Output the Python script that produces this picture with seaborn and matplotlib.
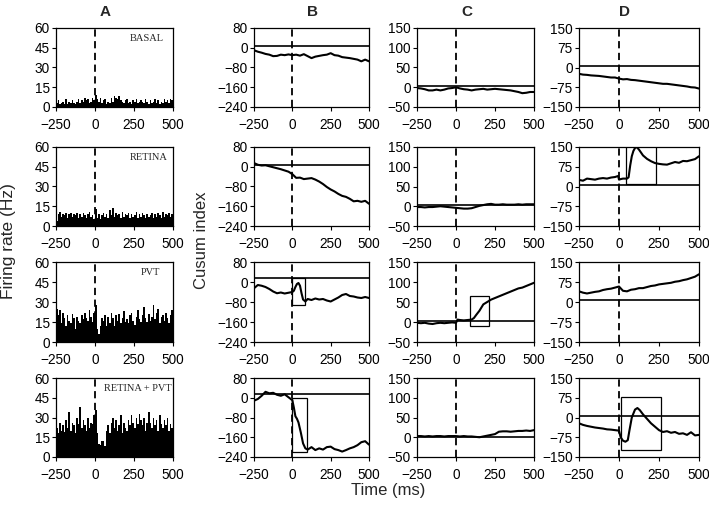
import matplotlib
matplotlib.use("Agg")
import matplotlib.pyplot as plt
import matplotlib.patches as patches
import seaborn as sns
import numpy as np
import pandas as pd

# ---- data ---------------------------------------------------------------
# firing rate histograms, 10 ms bins from -250 to 500 ms
bin_edges = list(range(-250, 501, 10))

rate_basal = [3, 5, 2, 3, 4, 2, 6, 2, 4, 3, 5, 3, 2, 4, 6,
              3, 5, 4, 7, 5, 6, 3, 4, 7, 5, 9, 6, 4, 7, 3,
              5, 6, 2, 4, 3, 7, 4, 8, 7, 6, 8, 5, 4, 3, 5,
              6, 3, 4, 2, 5, 4, 6, 3, 4, 5, 4, 3, 6, 4, 2,
              5, 3, 4, 6, 3, 5, 2, 4, 3, 6, 4, 5, 3, 6, 5]
rate_retina = [4, 9, 11, 7, 9, 8, 10, 6, 9, 10, 7, 9, 8, 10, 6,
               9, 7, 10, 8, 6, 9, 11, 7, 8, 5, 13, 6, 9, 5, 8,
               10, 7, 9, 6, 12, 8, 14, 7, 10, 8, 9, 6, 11, 7, 9,
               8, 10, 6, 9, 7, 8, 11, 6, 9, 7, 10, 8, 6, 9, 7,
               8, 10, 6, 9, 7, 10, 8, 6, 11, 7, 9, 8, 10, 7, 9]
rate_pvt = [25, 20, 24, 14, 22, 18, 12, 20, 16, 14, 21, 18, 10, 19, 16,
            14, 20, 17, 22, 18, 16, 24, 19, 15, 22, 28, 10, 6, 12, 18,
            16, 20, 12, 19, 14, 22, 18, 12, 20, 16, 21, 14, 18, 23, 15,
            17, 14, 20, 22, 16, 13, 19, 24, 17, 15, 20, 26, 18, 15, 21,
            16, 19, 28, 17, 22, 25, 14, 19, 20, 16, 22, 18, 14, 20, 24]
rate_both = [22, 18, 26, 20, 24, 19, 28, 22, 34, 20, 26, 24, 18, 30, 25,
             38, 22, 28, 24, 20, 30, 22, 26, 25, 32, 36, 18, 10, 9, 12,
             12, 8, 20, 24, 18, 26, 30, 22, 28, 20, 24, 32, 18, 26, 22,
             20, 28, 24, 32, 26, 22, 30, 25, 33, 28, 24, 30, 20, 26, 34,
             26, 22, 30, 24, 28, 20, 32, 25, 22, 28, 24, 30, 20, 25, 22]
hist_labels = ["BASAL", "RETINA", "PVT", "RETINA + PVT"]

# cusum traces
t_common = list(range(-250, 501, 25))

b1_y = [-10, -16, -20, -25, -28, -34, -33, -28, -30, -27, -30, -28, -32, -26, -34, -42,
        -36, -33, -30, -28, -22, -30, -32, -38, -40, -42, -45, -48, -55, -48, -55]
b2_y = [15, 8, 5, 6, 2, -2, -6, -10, -15, -20, -30, -45, -44, -50, -48, -46,
        -52, -60, -70, -82, -92, -100, -110, -118, -122, -130, -140, -138, -142, -138, -150]
b3_t = [-250, -225, -200, -175, -150, -125, -100, -75, -50, -25, 0, 10, 20, 30, 40, 50, 60, 70,
        85, 100, 125, 150, 175, 200, 225, 250, 275, 300, 325, 350, 375, 400, 425, 450, 475, 500]
b3_y = [-25, -12, -15, -20, -28, -38, -45, -42, -46, -43, -40, -35, -20, -8, -4, -15, -45, -70,
        -78, -68, -72, -66, -70, -68, -74, -78, -70, -62, -52, -48, -56, -58, -62, -64, -60, -64]
b4_t = [-250, -225, -200, -175, -150, -125, -100, -75, -50, -25, 0, 10, 20, 30, 40, 55, 70, 85,
        100, 125, 150, 175, 200, 225, 250, 275, 300, 325, 350, 375, 400, 425, 450, 475, 500]
b4_y = [-12, -5, 8, 24, 18, 20, 12, 8, 14, 2, -10, -40, -75, -85, -100, -140, -185, -205,
        -210, -200, -212, -205, -210, -200, -198, -208, -212, -218, -212, -205, -200, -192, -180, -176, -190]

c1_y = [-2, -3, -5, -8, -8, -6, -8, -6, -3, -2, 0, -3, -5, -6, -8, -6,
        -5, -4, -6, -5, -4, -5, -6, -7, -8, -10, -12, -15, -14, -12, -12]
c2_y = [-2, -2, -3, -2, -2, -1, 0, -1, -2, -3, -4, -5, -6, -6, -5, -2,
        1, 3, 5, 6, 4, 4, 5, 4, 4, 4, 5, 4, 5, 5, 5]
c3_t = [-250, -225, -200, -175, -150, -125, -100, -75, -50, -25, 0, 10, 25, 50, 75, 100, 115,
        130, 150, 175, 200, 225, 250, 275, 300, 325, 350, 375, 400, 425, 450, 475, 500]
c3_y = [-2, -3, -2, -4, -5, -3, -2, -3, -2, -1, -2, 6, 5, 4, 5, 6, 10,
        18, 28, 44, 50, 56, 60, 64, 68, 72, 76, 80, 84, 86, 90, 94, 98]
c4_y = [3, 3, 2, 3, 2, 3, 3, 2, 3, 3, 3, 2, 3, 2, 2, 1,
        0, 2, 4, 6, 8, 14, 15, 15, 14, 15, 16, 16, 17, 16, 18]

d1_y = [-24, -27, -28, -30, -31, -32, -34, -36, -38, -38, -42, -45, -44, -47, -48, -50,
        -52, -54, -56, -58, -60, -62, -62, -64, -66, -68, -70, -72, -75, -76, -80]
d2_t = [-250, -225, -200, -175, -150, -125, -100, -75, -50, -25, -5, 0, 10, 25, 40, 50, 60, 70, 80,
        90, 100, 110, 125, 150, 175, 200, 225, 250, 275, 300, 325, 350, 375, 400, 425, 450, 475, 500]
d2_y = [25, 22, 30, 28, 26, 30, 32, 30, 34, 36, 40, 26, 28, 30, 30, 30, 35, 80, 115,
        135, 146, 150, 140, 118, 105, 96, 89, 86, 84, 83, 88, 93, 90, 97, 96, 100, 104, 115]
d3_y = [40, 35, 32, 35, 38, 40, 45, 48, 50, 54, 58, 42, 40, 46, 48, 52,
        52, 56, 60, 62, 66, 68, 70, 72, 76, 78, 82, 85, 90, 95, 104]
d4_t = [-250, -225, -200, -175, -150, -125, -100, -75, -50, -25, 0, 10, 25, 40, 55, 65, 80, 100,
        115, 130, 150, 175, 200, 225, 250, 275, 300, 325, 350, 375, 400, 425, 450, 475, 500]
d4_y = [-22, -28, -32, -35, -38, -40, -42, -45, -46, -48, -50, -75, -88, -92, -86, -50, 0, 30,
        36, 28, 12, -5, -22, -35, -48, -55, -52, -58, -55, -62, -60, -66, -56, -68, -66]

# horizontal reference level for each cusum panel
b_levels = [7, 7, 17, 16]
c_levels = [3, 3, 2, 1]
d_levels = [4, 6, 7, 7]

# significance boxes: (column, row, t0, t1, y0, y1)
boxes = [("B", 2, 0, 82, -90, 17),
         ("B", 3, 0, 98, -220, 0),
         ("C", 2, 87, 209, -10, 65),
         ("D", 1, 45, 229, 10, 156),
         ("D", 3, 10, 260, -124, 79)]

# ---- figure -------------------------------------------------------------
sns.set_theme(style="ticks")
plt.rcParams["font.family"] = ["Liberation Sans", "DejaVu Sans"]
plt.rcParams["axes.linewidth"] = 0.9

W, H = 709, 508
fig = plt.figure(figsize=(W / 100, H / 100), dpi=100)

col_x = {"A": (56, 173), "B": (254, 369), "C": (417, 534), "D": (579, 699)}
row_y = [(28, 107), (147, 226), (262, 342), (378, 457)]


def make_ax(col, row):
    x0, x1 = col_x[col]
    y0, y1 = row_y[row]
    ax = fig.add_axes([x0 / W, 1 - y1 / H, (x1 - x0) / W, (y1 - y0) / H])
    for s in ax.spines.values():
        s.set_visible(True)
        s.set_color("black")
    ax.tick_params(direction="out", length=3, width=0.8, labelsize=9.8, colors="black")
    ax.tick_params(axis="x", pad=5)
    ax.tick_params(axis="y", pad=1.5)
    ax.set_xlim(-250, 500)
    ax.set_xticks([-250, 0, 250, 500])
    return ax


# column A - histograms
rates = [rate_basal, rate_retina, rate_pvt, rate_both]
label_x = [0.92, 0.95, 0.89, 0.99]
centers = np.array(bin_edges[:-1]) + 5
for r in range(4):
    ax = make_ax("A", r)
    sns.histplot(x=centers, weights=rates[r], bins=bin_edges, color="black",
                 alpha=1, linewidth=0, ax=ax)
    ax.set_ylim(0, 60)
    ax.set_yticks([0, 15, 30, 45, 60])
    ax.axvline(0, color="black", lw=1.3, ls=(0, (4, 2.5)))
    ax.text(label_x[r], 0.87, hist_labels[r], transform=ax.transAxes, ha="right", va="center",
            fontsize=7.5, family=["Liberation Serif", "DejaVu Serif"])
    ax.set_xlabel("")
    ax.set_ylabel("")

traces = {
    "B": [(t_common, b1_y), (t_common, b2_y), (b3_t, b3_y), (b4_t, b4_y)],
    "C": [(t_common, c1_y), (t_common, c2_y), (c3_t, c3_y), (t_common, c4_y)],
    "D": [(t_common, d1_y), (d2_t, d2_y), (t_common, d3_y), (d4_t, d4_y)],
}
levels = {"B": b_levels, "C": c_levels, "D": d_levels}
ylims = {"B": (-240, 80, [-240, -160, -80, 0, 80]),
         "C": (-50, 150, [-50, 0, 50, 100, 150]),
         "D": (-150, 150, [-150, -75, 0, 75, 150])}

axes = {}
for col in ["B", "C", "D"]:
    for r in range(4):
        ax = make_ax(col, r)
        t, y = traces[col][r]
        df = pd.DataFrame({"t": t, "cusum": y})
        ax.axhline(levels[col][r], color="black", lw=1.2)
        sns.lineplot(data=df, x="t", y="cusum", color="black", lw=1.5,
                     estimator=None, sort=False, ax=ax)
        ax.axvline(0, color="black", lw=1.3, ls=(0, (4, 2.5)))
        lo, hi, ticks = ylims[col]
        ax.set_ylim(lo, hi)
        ax.set_yticks(ticks)
        ax.set_xlabel("")
        ax.set_ylabel("")
        axes[(col, r)] = ax

for col, r, t0, t1, y0, y1 in boxes:
    rect = patches.Rectangle((t0, y0), t1 - t0, y1 - y0, fill=False, lw=0.9,
                             edgecolor="black", clip_on=True)
    axes[(col, r)].add_patch(rect)

# column titles and shared labels
for letter, xp in zip("ABCD", [105, 312, 467, 624]):
    fig.text(xp / W, 1 - 12 / H, letter, ha="center", va="center", fontsize=11, fontweight="bold")
fig.text(9 / W, 1 - 241 / H, "Firing rate (Hz)", rotation=90, ha="center", va="center", fontsize=12.5)
fig.text(202 / W, 1 - 240 / H, "Cusum index", rotation=90, ha="center", va="center", fontsize=12)
fig.text(388 / W, 1 - 490 / H, "Time (ms)", ha="center", va="center", fontsize=12)

fig.savefig("out.png", dpi=100)
